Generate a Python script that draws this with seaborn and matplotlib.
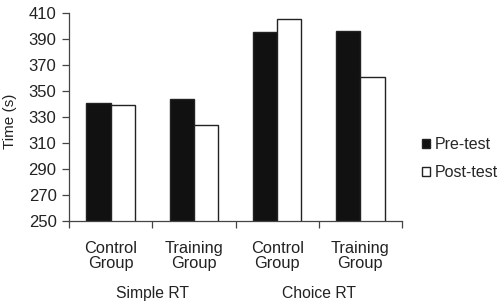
import numpy as np
import pandas as pd
import seaborn as sns
import matplotlib.pyplot as plt

# data
groups = ['Control\nGroup', 'Training\nGroup', 'Control\nGroup', 'Training\nGroup']
conditions = ['Simple RT', 'Choice RT']
pre_test = [341, 344, 395, 396]
post_test = [339, 324, 405, 361]
yticks = [250, 270, 290, 310, 330, 350, 370, 390, 410]

slots = [f'{c}|{g}' for c in conditions for g in ['Control\nGroup', 'Training\nGroup']]
df = pd.DataFrame({
    'slot': slots * 2,
    'time': pre_test + post_test,
    'test': ['Pre-test'] * 4 + ['Post-test'] * 4,
})

sns.set_theme(style='white')
plt.rcParams['font.family'] = ['Liberation Sans', 'DejaVu Sans']

fig = plt.figure(figsize=(5.0, 3.02), dpi=100)
ax = fig.add_axes([0.138, 0.268, 0.666, 0.689])

sns.barplot(data=df, x='slot', y='time', hue='test', order=slots,
            hue_order=['Pre-test', 'Post-test'],
            palette={'Pre-test': '#111111', 'Post-test': 'white'},
            width=0.58, edgecolor='#222222', linewidth=1.0,
            saturation=1, ax=ax)

ax.set_ylim(250, 410)
ax.set_yticks(yticks)
ax.set_xlim(-0.5, 3.5)
ax.set_xticks(np.arange(-0.5, 4.0, 1.0))
ax.set_xticklabels([])
ax.set_xticks(range(4), minor=True)
ax.set_xticklabels(groups, minor=True, fontsize=11.8, color='#222222', linespacing=1.05)
ax.tick_params(axis='x', which='minor', length=0, pad=14)
ax.tick_params(axis='x', which='major', length=5, width=0.9, color='#444444', direction='out', bottom=True)
ax.tick_params(axis='y', length=5, width=0.9, color='#444444', direction='out', left=True,
               labelsize=12, labelcolor='#222222', pad=4)

for s in ['top', 'right']:
    ax.spines[s].set_visible(False)
for s in ['left', 'bottom']:
    ax.spines[s].set_color('#444444')
    ax.spines[s].set_linewidth(0.9)

ax.set_xlabel('')
ax.set_ylabel('Time (s)', fontsize=11, color='#222222')
ax.yaxis.set_label_coords(-0.157, 0.48)

for i, c in enumerate(conditions):
    ax.text(2 * i + 0.5, -0.346, c, transform=ax.get_xaxis_transform(),
            ha='center', va='center', fontsize=11.3, color='#222222')

ax.legend(loc='center left', bbox_to_anchor=(1.025, 0.30), frameon=False,
          handlelength=0.55, handleheight=0.55, handletextpad=0.3,
          labelspacing=0.8, fontsize=11.5, borderaxespad=0.3)

plt.savefig('out.png', dpi=100)
plt.close()
